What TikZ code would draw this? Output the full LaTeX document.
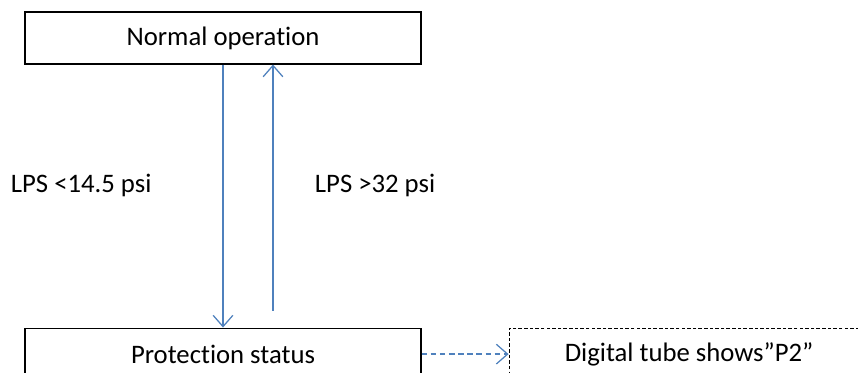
\documentclass[tikz,border=0pt]{standalone}
\usepackage{fontspec}
\setmainfont{Carlito}[Ligatures={NoCommon}]
\usepackage{tikz}
\usetikzlibrary{arrows.meta, calc, positioning}
\definecolor{LineBlue}{HTML}{4F81BD}
\tikzstyle{statebox} = [rectangle, minimum width=9.9cm, minimum height=1.3cm,
text centered, draw=black, line width=0.8pt, font=\fontsize{19}{22}\selectfont]
\tikzstyle{showbox} = [rectangle, minimum width=9cm, minimum height=1.3cm,
text centered, draw=black, line width=0.75pt, dash pattern=on 2.5pt off 1.5pt,
font=\fontsize{19}{22}\selectfont]
\tikzstyle{flow} = [-{Straight Barb[length=8pt,width=14pt]}, LineBlue, line width=0.9pt]

\begin{document}
\begin{tikzpicture}
   \useasboundingbox (0,0) rectangle (21.45,9.325);
   \node[statebox] (normal) at (5.575,8.375) {Normal operation};
   \node[statebox,below=6.575cm of normal] (protection) {Protection status};
   \node[showbox,right=2.175cm of protection] (tube) {Digital tube shows”P2”};
   \node[anchor=west,font=\fontsize{19}{22}\selectfont] (low) at (0.15,4.7) {LPS <14.5 psi};
   \node[anchor=west,font=\fontsize{19}{22}\selectfont] (high) at (7.75,4.7) {LPS >32 psi};
   \draw[flow] (normal.south) -- (protection.north);
   \draw[flow] ([xshift=1.25cm,yshift=0.425cm]protection.north) -- ([xshift=1.25cm]normal.south);
   \draw[flow,dash pattern=on 4pt off 2.5pt] (protection) -- (tube);
  \end{tikzpicture}
\end{document}
